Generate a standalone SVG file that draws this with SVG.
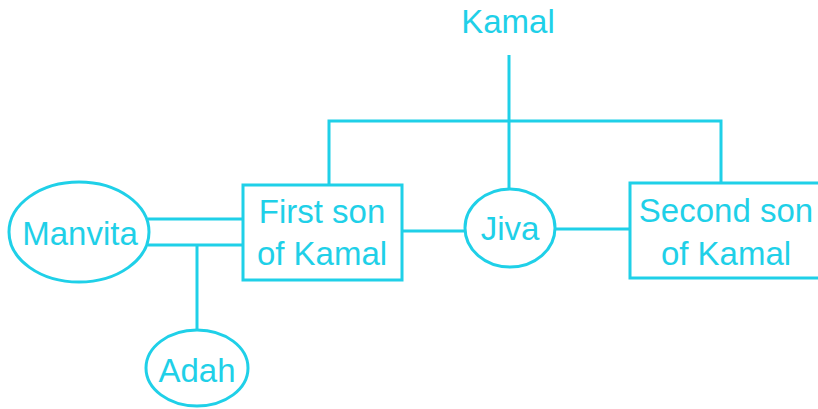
<svg xmlns="http://www.w3.org/2000/svg" width="818" height="409" viewBox="0 0 818 409">
<style>
.s{fill:none;stroke:#1fd0e8;stroke-width:3}
.n{fill:#ffffff;stroke:#1fd0e8;stroke-width:3}
.t{font-family:"Liberation Sans",Arial,sans-serif;font-size:33px;fill:#1fd0e8;text-anchor:middle}
</style>
<rect width="818" height="409" fill="#ffffff"/>
<g id="connectors">
<path class="s" d="M509 55 V188"/>
<path class="s" d="M329 185 V121 H721 V183"/>
<path class="s" d="M148 219 H243"/>
<path class="s" d="M148 245 H243"/>
<path class="s" d="M197 245 V330"/>
<path class="s" d="M402 231 H465"/>
<path class="s" d="M555 229 H630"/>
</g>
<g id="kamal"><text class="t" x="508" y="33">Kamal</text></g>
<g id="manvita"><ellipse class="n" cx="79" cy="232" rx="70" ry="50"/><text class="t" x="80" y="245">Manvita</text></g>
<g id="adah"><ellipse class="n" cx="197" cy="368" rx="51" ry="38"/><text class="t" x="197" y="382">Adah</text></g>
<g id="first-son"><rect class="n" x="243" y="185" width="159" height="95"/><text class="t" x="322" y="223">First son</text><text class="t" x="322" y="265">of Kamal</text></g>
<g id="jiva"><ellipse class="n" cx="510" cy="228" rx="45" ry="39"/><text class="t" x="510" y="240">Jiva</text></g>
<g id="second-son"><rect class="n" x="630" y="183" width="200" height="95"/><text class="t" x="726" y="222">Second son</text><text class="t" x="726" y="265">of Kamal</text></g>
</svg>
